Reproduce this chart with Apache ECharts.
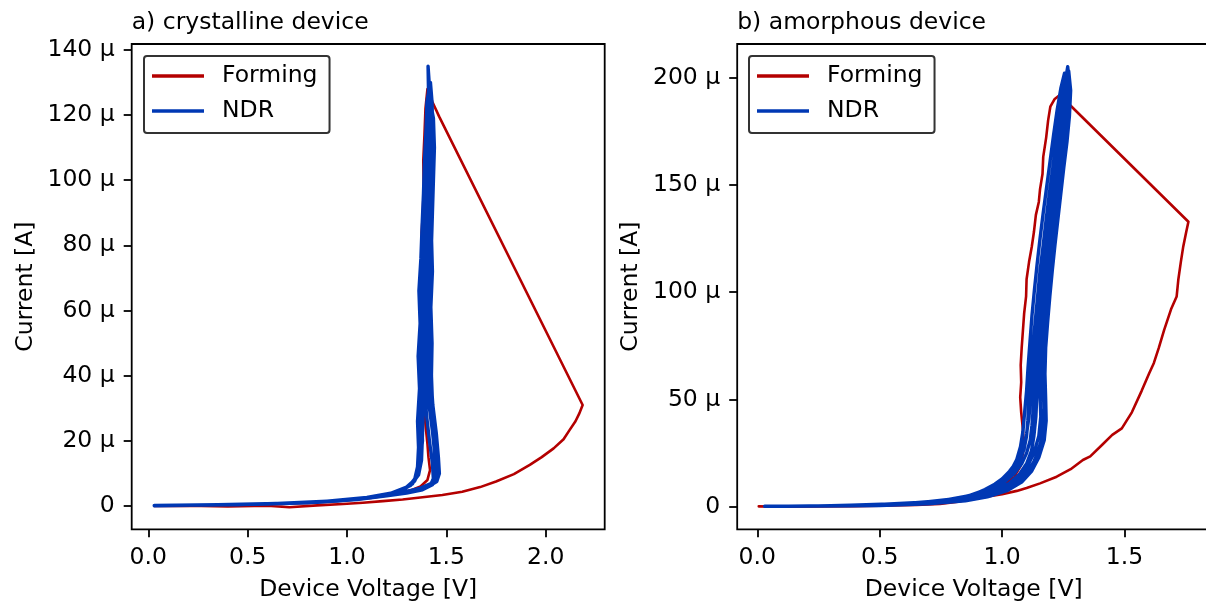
<!DOCTYPE html>
<html>
<head>
<meta charset="utf-8">
<script src="https://cdn.jsdelivr.net/npm/echarts@6/dist/echarts.min.js"></script>
<style>
  html, body { margin: 0; padding: 0; background: #fff; }
  #chart { width: 1206px; height: 604px; }
</style>
</head>
<body>
<div id="chart"></div>
<script>
// panel titles and legend names
var titles = ['a) crystalline device', 'b) amorphous device'];
var names = ['Forming', 'NDR'];

// tick values (current in µA, voltage in V)
var xTicksA = [0, 0.5, 1.0, 1.5, 2.0];
var yTicksA = [0, 20, 40, 60, 80, 100, 120, 140];
var xTicksB = [0, 0.5, 1.0, 1.5];
var yTicksB = [0, 50, 100, 150, 200];

// a) crystalline: forming sweep [V, µA]
var formingA = [[0.03,0],[0.2,0.1],[0.4,-0.1],[0.6,0.1],[0.71,-0.4],[0.85,0.2],[0.98,0.6],[1.08,1.0],[1.18,1.5],[1.28,2.0],[1.38,2.7],[1.48,3.4],[1.58,4.4],[1.67,5.8],[1.75,7.5],[1.84,9.8],[1.92,12.6],[1.98,15],[2.04,17.7],[2.09,20.5],[2.12,23.3],[2.15,26],[2.17,28.5],[2.186,31],
  [1.464,119.5],[1.43,124],[1.405,128],[1.395,122],[1.39,114],[1.384,106],[1.386,98],[1.382,90],[1.376,84],[1.38,75],[1.374,68],[1.376,62],[1.372,54],[1.37,46],[1.368,40],[1.376,36],[1.384,32],[1.395,25],[1.405,19],[1.41,15],[1.418,11],[1.405,8],[1.37,6],[1.32,4.8],[1.24,3.6],[1.12,2.5],[0.98,1.6],[0.8,0.9],[0.55,0.4],[0.3,0.1],[0.05,0]];

// a) crystalline: NDR cycles
var ndrA1 = [[0.03,0.2],[0.25,0.3],[0.5,0.5],[0.75,0.9],[0.9,1.4],[1.05,2.1],[1.18,3.2],[1.27,4.6],[1.33,6.8],[1.36,10.5],[1.37,16],[1.365,24],[1.375,33],[1.37,42],[1.38,52],[1.372,61],[1.385,70],[1.38,80],[1.392,90],[1.395,100],[1.402,110],[1.405,120],[1.41,128],[1.408,135],[1.418,126],[1.425,118],[1.43,108],[1.422,97],[1.418,86],[1.41,74],[1.405,62],[1.41,50],[1.405,40],[1.415,30],[1.432,22],[1.445,14],[1.45,9],[1.43,6.5],[1.38,5],[1.3,4],[1.2,3.1],[1.05,2],[0.85,1.1],[0.6,0.6],[0.35,0.3],[0.05,0.2]];
var ndrA2 = [[0.03,0.1],[0.3,0.3],[0.6,0.7],[0.85,1.2],[1.0,1.8],[1.15,2.9],[1.25,4.2],[1.31,6],[1.35,9],[1.37,14],[1.38,20],[1.375,28],[1.38,38],[1.39,48],[1.385,58],[1.395,68],[1.39,78],[1.4,88],[1.405,98],[1.41,108],[1.415,117],[1.42,124],[1.435,119],[1.44,110],[1.435,100],[1.43,90],[1.425,80],[1.418,70],[1.42,60],[1.428,50],[1.425,40],[1.43,32],[1.44,26],[1.455,18],[1.46,11],[1.45,8],[1.4,6],[1.32,4.6],[1.22,3.4],[1.1,2.4],[0.95,1.5],[0.7,0.8],[0.4,0.4],[0.1,0.2]];
var ndrA3 = [[0.04,0.2],[0.35,0.4],[0.65,0.8],[0.9,1.5],[1.1,2.6],[1.22,3.9],[1.3,5.8],[1.34,8],[1.355,12],[1.36,18],[1.355,26],[1.365,36],[1.358,46],[1.368,56],[1.362,66],[1.372,76],[1.378,86],[1.385,96],[1.39,106],[1.398,116],[1.402,124],[1.41,127],[1.42,122],[1.422,112],[1.415,102],[1.408,92],[1.402,82],[1.398,72],[1.39,60],[1.395,48],[1.39,38],[1.4,28],[1.415,20],[1.43,13],[1.435,8],[1.41,6],[1.35,5.2],[1.27,4.1],[1.15,2.8],[1.0,1.8],[0.8,1.0],[0.5,0.5],[0.2,0.2],[0.03,0.1]];
var ndrA4 = [[0.03,0.2],[0.4,0.4],[0.7,0.8],[0.95,1.6],[1.12,2.7],[1.24,4.1],[1.32,6.3],[1.36,9.5],[1.375,14],[1.38,22],[1.385,31],[1.378,40],[1.388,50],[1.382,60],[1.39,70],[1.395,80],[1.4,92],[1.408,104],[1.412,114],[1.418,122],[1.42,130],[1.428,124],[1.432,114],[1.428,104],[1.42,92],[1.425,82],[1.418,70],[1.415,58],[1.42,46],[1.415,35],[1.425,26],[1.44,17],[1.445,10],[1.425,7],[1.37,5.5],[1.29,4.3],[1.18,3.1],[1.02,1.9],[0.8,1.0],[0.55,0.5],[0.25,0.3],[0.04,0.2]];
var ndrA5 = [[0.03,0.2],[0.3,0.3],[0.62,0.7],[0.88,1.3],[1.06,2.2],[1.2,3.5],[1.29,5.2],[1.34,7.6],[1.365,11],[1.372,17],[1.368,25],[1.378,34],[1.372,44],[1.382,54],[1.376,64],[1.386,74],[1.392,84],[1.4,94],[1.406,104],[1.41,113],[1.415,120],[1.428,115],[1.436,105],[1.43,94],[1.425,83],[1.43,72],[1.422,61],[1.428,50],[1.422,40],[1.432,31],[1.45,22],[1.46,15],[1.465,10],[1.452,7.5],[1.41,6],[1.34,5],[1.24,3.7],[1.12,2.6],[0.95,1.6],[0.72,0.9],[0.45,0.4],[0.15,0.2]];

// b) amorphous: forming sweep
var formingB = [[0.006,0.2],[0.1,0],[0.25,0.2],[0.4,0.3],[0.55,0.6],[0.65,0.9],[0.746,1.3],[0.82,2.3],[0.882,3.9],[0.936,4.7],[1.0,5.8],[1.06,7.4],[1.1,8.7],[1.155,10.9],[1.223,14],[1.28,17.5],[1.33,21.8],[1.36,23.5],[1.41,29],[1.45,33.5],[1.489,36.5],[1.53,44],[1.57,54],[1.6,62],[1.62,67],[1.64,74],[1.662,82.4],[1.69,92],[1.713,98],[1.72,106],[1.73,114],[1.74,121.3],[1.752,128],[1.761,132.8],
  [1.277,187.2],[1.255,190.5],[1.237,191.9],[1.215,190],[1.197,186.4],[1.188,180],[1.18,172],[1.168,163],[1.165,155],[1.155,148],[1.15,142],[1.138,136],[1.13,128],[1.121,121],[1.11,114],[1.1,106],[1.098,98],[1.09,90],[1.085,82],[1.08,74],[1.076,66],[1.078,58],[1.074,51],[1.078,44],[1.085,36],[1.088,30],[1.085,25],[1.075,19],[1.05,14],[1.0,9.5],[0.93,6],[0.85,3.8],[0.72,1.9],[0.55,0.8],[0.35,0.3],[0.12,0.1]];

// b) amorphous: NDR cycles
var ndrB1 = [[0.03,0.3],[0.2,0.3],[0.35,0.6],[0.54,1.3],[0.66,2.0],[0.75,2.8],[0.82,4],[0.88,5.6],[0.93,8],[0.97,10.5],[1.0,13],[1.03,16.5],[1.06,21],[1.085,27],[1.1,34],[1.11,42],[1.118,52],[1.125,63],[1.132,75],[1.14,88],[1.15,100],[1.16,112],[1.172,124],[1.185,136],[1.2,150],[1.215,163],[1.228,175],[1.24,186],[1.255,196],[1.268,205],[1.275,197],[1.27,186],[1.258,174],[1.246,162],[1.235,150],[1.222,138],[1.21,126],[1.198,114],[1.188,102],[1.18,90],[1.172,78],[1.165,66],[1.168,54],[1.172,44],[1.168,36],[1.155,28],[1.13,21],[1.1,15],[1.06,11],[1.0,7],[0.93,4.5],[0.84,2.8],[0.72,1.6],[0.55,0.8],[0.35,0.4],[0.1,0.2]];
var ndrB2 = [[0.03,0.2],[0.25,0.4],[0.45,0.9],[0.62,1.7],[0.76,3],[0.86,5],[0.94,8.2],[1.0,12],[1.04,16],[1.07,21],[1.09,27],[1.1,33],[1.105,40],[1.11,50],[1.118,62],[1.125,74],[1.135,86],[1.145,98],[1.155,110],[1.168,122],[1.18,134],[1.193,146],[1.207,158],[1.22,170],[1.235,182],[1.25,192],[1.262,198],[1.27,190],[1.262,178],[1.25,166],[1.238,154],[1.226,142],[1.214,130],[1.203,118],[1.193,106],[1.183,94],[1.175,82],[1.17,70],[1.172,58],[1.175,46],[1.17,38],[1.16,30],[1.14,23],[1.11,17],[1.07,12],[1.02,8.5],[0.95,5.5],[0.86,3.4],[0.74,1.9],[0.58,0.9],[0.38,0.4],[0.05,0.2]];
var ndrB3 = [[0.04,0.2],[0.3,0.5],[0.5,1.1],[0.68,2.1],[0.8,3.6],[0.89,5.8],[0.95,8.8],[1.0,12.5],[1.035,16.5],[1.06,22],[1.075,28],[1.085,35],[1.092,44],[1.1,54],[1.106,65],[1.114,77],[1.122,89],[1.132,101],[1.143,113],[1.155,125],[1.168,137],[1.182,149],[1.196,161],[1.21,173],[1.225,185],[1.24,195],[1.255,202],[1.262,196],[1.255,184],[1.244,172],[1.232,160],[1.22,148],[1.208,136],[1.196,124],[1.186,112],[1.177,100],[1.168,88],[1.16,76],[1.155,64],[1.155,52],[1.158,42],[1.15,33],[1.13,25],[1.1,18],[1.06,12.5],[1.0,8.2],[0.92,5],[0.82,3],[0.68,1.6],[0.5,0.7],[0.25,0.3],[0.03,0.2]];
var ndrB4 = [[0.03,0.3],[0.3,0.4],[0.52,1.0],[0.7,2.0],[0.82,3.4],[0.91,5.4],[0.98,8],[1.03,11],[1.07,15],[1.1,20],[1.12,26],[1.13,33],[1.138,42],[1.142,52],[1.148,64],[1.155,76],[1.162,88],[1.17,100],[1.18,112],[1.19,124],[1.202,136],[1.215,148],[1.228,160],[1.24,172],[1.252,184],[1.263,195],[1.272,203],[1.28,194],[1.275,182],[1.265,170],[1.252,158],[1.24,146],[1.228,134],[1.216,122],[1.205,110],[1.195,98],[1.186,86],[1.178,74],[1.175,62],[1.178,50],[1.18,40],[1.172,31],[1.15,23],[1.12,16.5],[1.08,11.5],[1.02,7.5],[0.94,4.6],[0.85,2.8],[0.7,1.4],[0.5,0.6],[0.25,0.3],[0.05,0.2]];
var ndrB5 = [[0.03,0.2],[0.28,0.4],[0.5,0.9],[0.66,1.8],[0.78,3.1],[0.88,5.2],[0.95,8],[1.01,11.5],[1.05,15.5],[1.08,20],[1.1,25],[1.115,31],[1.122,38],[1.128,47],[1.132,57],[1.138,68],[1.145,80],[1.153,92],[1.162,104],[1.173,116],[1.185,128],[1.198,140],[1.212,152],[1.225,164],[1.238,176],[1.25,187],[1.26,196],[1.266,200],[1.274,192],[1.268,180],[1.256,168],[1.244,156],[1.232,144],[1.22,132],[1.208,120],[1.198,108],[1.19,96],[1.182,84],[1.175,72],[1.17,60],[1.172,48],[1.168,38],[1.158,30],[1.135,22],[1.1,15.5],[1.05,10.5],[0.98,6.8],[0.9,4.3],[0.78,2.4],[0.6,1.1],[0.4,0.5],[0.1,0.2]];

var ndrA = [].concat(ndrA1, ndrA2, ndrA3, ndrA4, ndrA5);
var ndrB = [].concat(ndrB1, ndrB2, ndrB3, ndrB4, ndrB5);

var RED = '#b40000', BLUE = '#0038b4';
var FONT = 'DejaVu Sans';
var FS = 23.5;

var chart = echarts.init(document.getElementById('chart'), null, { renderer: 'canvas' });

function xAxis(idx, min, max, ticks) {
  return {
    type: 'value', gridIndex: idx, min: min, max: max,
    name: 'Device Voltage [V]', nameLocation: 'middle', nameGap: 49,
    nameTextStyle: { fontFamily: FONT, fontSize: FS, color: '#000' },
    axisLine: { show: false, onZero: false },
    axisTick: { show: true, inside: false, length: 8, customValues: ticks, lineStyle: { color: '#000', width: 1.8 } },
    axisLabel: { customValues: ticks, margin: 17, fontFamily: FONT, fontSize: FS, color: '#000',
      formatter: function (v) { return v.toFixed(1); } },
    splitLine: { show: false }
  };
}
function yAxis(idx, min, max, ticks) {
  return {
    type: 'value', gridIndex: idx, min: min, max: max,
    name: 'Current [A]', nameLocation: 'middle', nameGap: 94,
    nameTextStyle: { fontFamily: FONT, fontSize: FS, color: '#000' },
    axisLine: { show: false, onZero: false },
    axisTick: { show: true, inside: false, length: 8, customValues: ticks, lineStyle: { color: '#000', width: 1.8 } },
    axisLabel: { customValues: ticks, margin: 17, fontFamily: FONT, fontSize: FS, color: '#000',
      formatter: function (v) { return v === 0 ? '0' : v + ' μ'; } },
    splitLine: { show: false }
  };
}
function legend(left) {
  return {
    left: left, top: 56, orient: 'vertical', selectedMode: false,
    data: names, icon: 'rect', itemWidth: 52, itemHeight: 3.5, itemGap: 11,
    padding: [8, 12, 10, 8],
    backgroundColor: 'rgba(255,255,255,0.8)', borderColor: '#333', borderWidth: 2, borderRadius: 3,
    textStyle: { fontFamily: FONT, fontSize: FS, color: '#000', lineHeight: 24, padding: [0, 0, 0, 13] }
  };
}
function line(name, data, xi, color, width) {
  return {
    name: name, type: 'line', xAxisIndex: xi, yAxisIndex: xi, data: data,
    symbol: 'none', showSymbol: false, smooth: false, animation: false,
    lineStyle: { color: color, width: width, join: 'round', cap: 'round' },
    itemStyle: { color: color }
  };
}

chart.setOption({
  animation: false,
  backgroundColor: '#fff',
  title: [
    { text: titles[0], left: 131.7, top: 11, padding: 0, textStyle: { fontFamily: FONT, fontSize: FS, fontWeight: 'normal', color: '#000' } },
    { text: titles[1], left: 737.2, top: 11, padding: 0, textStyle: { fontFamily: FONT, fontSize: FS, fontWeight: 'normal', color: '#000' } }
  ],
  legend: [legend(144), legend(749)],
  grid: [
    { left: 131.7, top: 44, width: 473, height: 485.3, outerBoundsMode: 'none', show: true, borderColor: '#000', borderWidth: 1.8, backgroundColor: 'transparent' },
    { left: 737.2, top: 44, width: 473, height: 485.3, outerBoundsMode: 'none', show: true, borderColor: '#000', borderWidth: 1.8, backgroundColor: 'transparent' }
  ],
  xAxis: [xAxis(0, -0.0835, 2.297, xTicksA), xAxis(1, -0.082, 1.85, xTicksB)],
  yAxis: [yAxis(0, -7.15, 141.8, yTicksA), yAxis(1, -10.5, 215.6, yTicksB)],
  series: [
    line(names[0], formingA, 0, RED, 2.6),
    line(names[1], ndrA, 0, BLUE, 3.4),
    line(names[0], formingB, 1, RED, 2.6),
    line(names[1], ndrB, 1, BLUE, 3.4)
  ]
});
</script>
</body>
</html>
